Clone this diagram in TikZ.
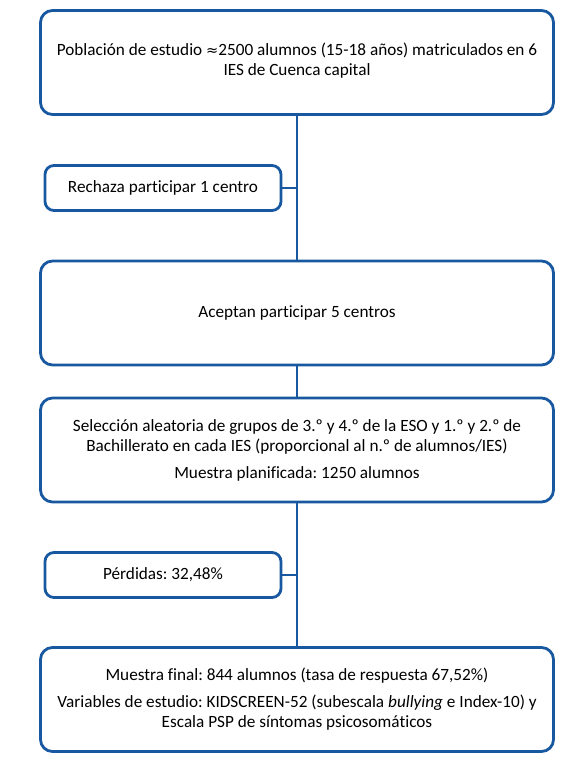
\documentclass[tikz,border=0pt]{standalone}
\usepackage{fontspec}
\setmainfont{Carlito}[RawFeature={-liga;-dlig}]
\newfontfamily\symfont{DejaVu Sans}
\definecolor{boxblue}{RGB}{24,88,160}
\frenchspacing
\begin{document}
\begin{tikzpicture}[x=1pt,y=-1pt,
  mainbox/.style={draw=boxblue,line width=2.8pt,rounded corners=12pt,fill=white,
    minimum width=513pt,minimum height=104pt,align=center,inner sep=0pt,
    font=\fontsize{17.2}{20}\selectfont},
  sidebox/.style={draw=boxblue,line width=2.8pt,rounded corners=9pt,fill=white,
    minimum width=236pt,minimum height=45pt,align=center,inner sep=0pt,
    font=\fontsize{17.2}{20}\selectfont},
  conn/.style={draw=boxblue,line width=2.8pt}]
\useasboundingbox (0,0) rectangle (580,763);
\draw[conn] (297,113) -- (297,263);
\draw[conn] (297,363) -- (297,400);
\draw[conn] (297,500) -- (297,650);
\node[mainbox] (b1) at (297,62.5) {};
\node (b1t) at (297,61) [align=center,inner sep=0pt,font=\fontsize{17.2}{20}\selectfont] {Población de estudio {\symfont\fontsize{14.5}{20}\selectfont≈}2500 alumnos (15-18 años) matriculados en 6\\IES de Cuenca capital};
\node[sidebox] (s1) at (163,188) {Rechaza participar 1 centro};
\node[mainbox] (b2) at (297,313) {Aceptan participar 5 centros};
\node[mainbox] (b3) at (297,450) {Selección aleatoria de grupos de 3.º y 4.º de la ESO y 1.º y 2.º de\\Bachillerato en cada IES (proporcional al n.º de alumnos/IES)\\[7pt]Muestra planificada: 1250 alumnos};
\node[sidebox] (s2) at (163,575) {Pérdidas: 32,48\%};
\node[mainbox] (b4) at (297,699.5) {Muestra final: 844 alumnos (tasa de respuesta 67,52\%)\\[7pt]Variables de estudio: KIDSCREEN-52 (subescala \textit{bullying} e Index-10) y\\Escala PSP de síntomas psicosomáticos};
\draw[conn] (s1.east) -- (s1.east -| b1.south);
\draw[conn] (s2.east) -- (s2.east -| b1.south);
\end{tikzpicture}
\end{document}
